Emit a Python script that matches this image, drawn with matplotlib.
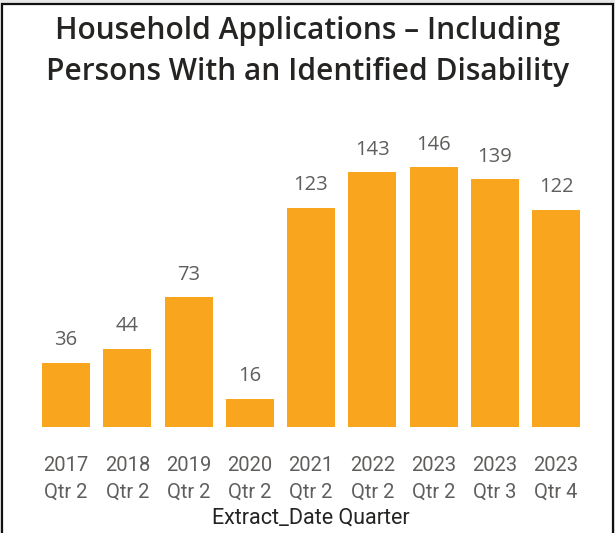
import matplotlib
matplotlib.use("Agg")
import matplotlib.pyplot as plt
from matplotlib.patches import Rectangle

categories = ["2017\nQtr 2", "2018\nQtr 2", "2019\nQtr 2", "2020\nQtr 2", "2021\nQtr 2",
              "2022\nQtr 2", "2023\nQtr 2", "2023\nQtr 3", "2023\nQtr 4"]
values = [36, 44, 73, 16, 123, 143, 146, 139, 122]

W, H = 615, 533
fig = plt.figure(figsize=(W / 100, H / 100), dpi=100)
fig.patch.set_facecolor("#e8e8e8")

# white card with dark border
card = Rectangle((1.5 / W, -0.05), (612.5 - 1.5) / W, (H - 3.5) / H + 0.05,
                 transform=fig.transFigure, facecolor="white", edgecolor="#111111",
                 linewidth=1.6, zorder=-10)
fig.patches.append(card)

# axes geometry in pixels
spacing = 61.25
first_center = 66
left_px = first_center - spacing / 2
width_px = spacing * 9
bottom_px = 427
ymax = 160
px_per_unit = 260 / 146
height_px = ymax * px_per_unit
ax = fig.add_axes([left_px / W, 1 - bottom_px / H, width_px / W, height_px / H])
ax.set_facecolor("none")
ax.set_zorder(5)

x = range(len(values))
bars = ax.bar(x, values, width=48 / spacing, color="#F9A61E", zorder=2)
ax.set_xlim(-0.5, len(values) - 0.5)
ax.set_ylim(0, ymax)

for xi, v in zip(x, values):
    ax.annotate(str(v), (xi, v), xytext=(0, 9), textcoords="offset points",
                ha="center", va="bottom", fontsize=14.5, color="#605E5C",
                family=["Open Sans", "DejaVu Sans"])

ax.set_xticks(list(x))
ax.set_xticklabels(categories, fontsize=14.5, color="#605E5C", family="Roboto",
                   linespacing=1.5)
ax.tick_params(axis="x", length=0, pad=21)
ax.set_yticks([])
for s in ax.spines.values():
    s.set_visible(False)

ax.set_xlabel("Extract_Date Quarter", fontsize=15.5, color="#252423", family="Roboto",
              labelpad=4)

fig.text(0.5, 1 - 31 / H, "Household Applications \u2013 Including", ha="center",
         va="center", fontsize=21.5, color="#252423", family="Open Sans", fontweight="semibold")
fig.text(0.5, 1 - 72 / H, "Persons With an Identified Disability", ha="center",
         va="center", fontsize=21.5, color="#252423", family="Open Sans", fontweight="semibold")

fig.savefig("out.png", dpi=100, facecolor=fig.get_facecolor())
